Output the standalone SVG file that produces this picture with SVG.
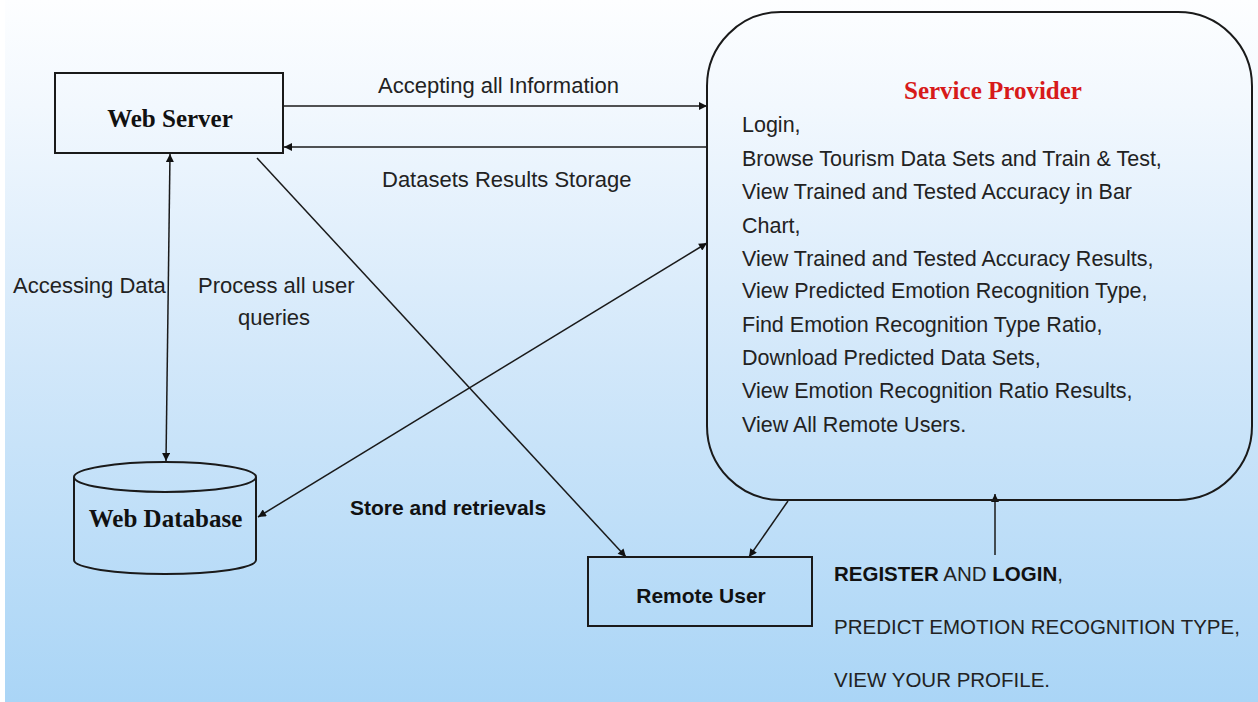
<svg xmlns="http://www.w3.org/2000/svg" width="1258" height="702" viewBox="0 0 1258 702">
  <defs>
    <linearGradient id="bg" x1="0" y1="0" x2="0" y2="1">
      <stop offset="0" stop-color="#fdfeff"/>
      <stop offset="0.15" stop-color="#f2f8fe"/>
      <stop offset="0.5" stop-color="#d3e8fa"/>
      <stop offset="1" stop-color="#aad5f6"/>
    </linearGradient>
    <marker id="ah" viewBox="0 0 10 10" refX="10" refY="5" markerWidth="9" markerHeight="8" markerUnits="userSpaceOnUse" orient="auto-start-reverse">
      <path d="M0,0 L10,5 L0,10 z" fill="#111"/>
    </marker>
    <style>
      .box { fill: none; stroke: #1a1a1a; stroke-width: 2; }
      .conn { fill: none; stroke: #1a1a1a; stroke-width: 1.5; }
      .lbl { font-family: "Liberation Sans", Arial, sans-serif; font-size: 22px; fill: #222; }
      .list { font-family: "Liberation Sans", Arial, sans-serif; font-size: 21.5px; fill: #222; }
      .serifb { font-family: "Liberation Serif", "Times New Roman", serif; font-weight: bold; font-size: 25px; fill: #111; }
      .sansb { font-family: "Liberation Sans", Arial, sans-serif; font-weight: bold; font-size: 21px; fill: #111; }
      .caps { font-family: "Liberation Sans", Arial, sans-serif; font-size: 20.5px; fill: #222; }
    </style>
  </defs>

  <rect x="0" y="0" width="1258" height="702" fill="#ffffff"/>
  <rect x="5" y="0" width="1253" height="702" fill="url(#bg)"/>

  <g id="connectors">
    <line class="conn" x1="283" y1="106" x2="707" y2="106" marker-end="url(#ah)"/>
    <line class="conn" x1="707" y1="147" x2="284" y2="147" marker-end="url(#ah)"/>
    <line class="conn" x1="170" y1="154" x2="166" y2="461" marker-start="url(#ah)" marker-end="url(#ah)"/>
    <line class="conn" x1="257" y1="158" x2="626" y2="557" marker-end="url(#ah)"/>
    <line class="conn" x1="707" y1="243" x2="258" y2="517" marker-start="url(#ah)" marker-end="url(#ah)"/>
    <line class="conn" x1="788" y1="501" x2="749" y2="557" marker-end="url(#ah)"/>
    <line class="conn" x1="995" y1="555" x2="995" y2="494" marker-end="url(#ah)"/>
    <text class="lbl" x="378" y="93">Accepting all  Information</text>
    <text class="lbl" x="382" y="187">Datasets Results Storage</text>
    <text class="lbl" x="13" y="293">Accessing Data</text>
    <text class="lbl" x="198" y="293">Process all user</text>
    <text class="lbl" x="274" y="325" text-anchor="middle">queries</text>
    <text class="sansb" x="350" y="515">Store and retrievals</text>
  </g>

  <g id="web-server">
    <rect class="box" x="55" y="73" width="228" height="80"/>
    <text class="serifb" x="170" y="127" text-anchor="middle">Web Server</text>
  </g>

  <g id="service-provider">
    <rect class="box" x="707" y="12" width="545" height="488" rx="74" ry="74"/>
    <text class="serifb" x="993" y="99" text-anchor="middle" fill="#d71a1a" style="fill:#d71a1a">Service Provider</text>
    <text class="list" x="742" y="132">Login,</text>
    <text class="list" x="742" y="166">Browse Tourism Data Sets and Train &amp; Test,</text>
    <text class="list" x="742" y="199">View Trained and Tested Accuracy in Bar</text>
    <text class="list" x="742" y="233">Chart,</text>
    <text class="list" x="742" y="266">View Trained and Tested Accuracy Results,</text>
    <text class="list" x="742" y="298">View Predicted Emotion Recognition Type,</text>
    <text class="list" x="742" y="332">Find Emotion Recognition Type Ratio,</text>
    <text class="list" x="742" y="365">Download Predicted Data Sets,</text>
    <text class="list" x="742" y="398">View Emotion Recognition Ratio Results,</text>
    <text class="list" x="742" y="432">View All Remote Users.</text>
  </g>

  <g id="web-database">
    <path class="box" d="M74,477 L74,560 A91,14 0 0 0 256,560 L256,477"/>
    <ellipse class="box" cx="165" cy="477" rx="91" ry="15"/>
    <text class="serifb" x="165.5" y="527" text-anchor="middle">Web Database</text>
  </g>

  <g id="remote-user">
    <rect class="box" x="588" y="557" width="224" height="69"/>
    <text class="sansb" x="701" y="603" text-anchor="middle">Remote User</text>
  </g>

  <g id="remote-user-actions">
    <text class="caps" x="834" y="581"><tspan font-weight="bold" fill="#111">REGISTER</tspan> AND <tspan font-weight="bold" fill="#111">LOGIN</tspan>,</text>
    <text class="caps" x="834" y="634">PREDICT EMOTION RECOGNITION TYPE,</text>
    <text class="caps" x="834" y="687">VIEW YOUR PROFILE.</text>
  </g>
</svg>
